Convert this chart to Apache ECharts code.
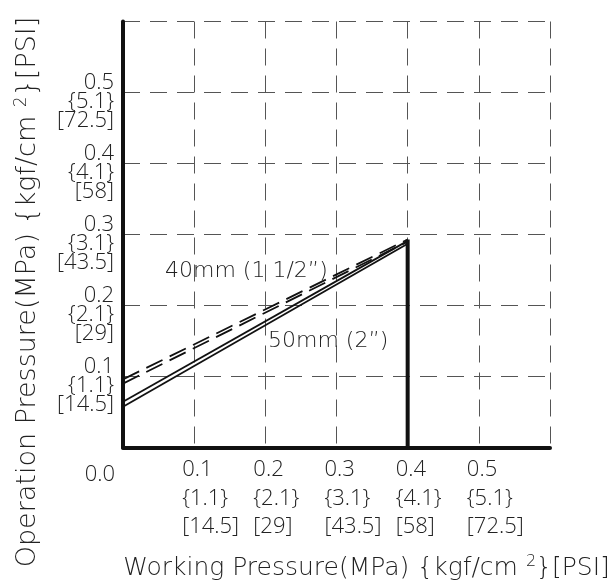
<!DOCTYPE html>
<html>
<head>
<meta charset="utf-8">
<script src="https://cdn.jsdelivr.net/npm/echarts@6/dist/echarts.min.js"></script>
<style>
html,body{margin:0;padding:0;background:#fff;}
#chart{width:616px;height:584px;}
</style>
</head>
<body>
<div id="chart"></div>
<script>
// Tick labels (MPa / kgf/cm2 / PSI)
const tickMPa = ['0.1', '0.2', '0.3', '0.4', '0.5'];
const tickKgf = ['{1.1}', '{2.1}', '{3.1}', '{4.1}', '{5.1}'];
const tickPsi = ['[14.5]', '[29]', '[43.5]', '[58]', '[72.5]'];
const zeroLabel = '0.0';

// Series values [working pressure, operation pressure] (MPa)
const line40Upper = [[0, 0.096], [0.4, 0.293]];
const line40Lower = [[0, 0.090], [0.4, 0.290]];
const line50Upper = [[0, 0.0645], [0.4, 0.291]];
const line50Lower = [[0, 0.0575], [0.4, 0.287]];
const limitLine = [[0.4, 0.293], [0.4, 0]];

const label40 = '40mm (1 1/2\u201d)';
const label50 = '50mm (2\u201d)';

const FONT = '"Open Sans", Roboto, "DejaVu Sans", sans-serif';
const WIDE = '"DejaVu Sans", "Open Sans", sans-serif';
const TXT = '#222';

function tickText(v) {
  const i = Math.round(v * 10) - 1;
  if (i < 0 || i >= tickMPa.length) return null;
  return [tickMPa[i], tickKgf[i], tickPsi[i]];
}

const chart = echarts.init(document.getElementById('chart'), null, {renderer: 'canvas'});

const lineSeries = (data, dashed, width) => ({
  type: 'line',
  data: data,
  symbol: 'none',
  silent: true,
  animation: false,
  lineStyle: {color: '#111', width: width, type: dashed ? [18, 8] : 'solid'},
  z: 5
});

chart.setOption({
  animation: false,
  backgroundColor: '#fff',
  grid: {left: 123, right: 66, top: 21.5, bottom: 136.5, containLabel: false, outerBoundsMode: 'none'},
  xAxis: {
    type: 'value', min: 0, max: 0.6, interval: 0.1,
    axisLine: {show: true, onZero: false, lineStyle: {color: '#111', width: 4}},
    axisTick: {show: false},
    splitLine: {show: true, lineStyle: {color: '#555', width: 1, type: [17, 10]}},
    axisLabel: {
      show: true, showMinLabel: true, showMaxLabel: true, hideOverlap: false,
      color: TXT, fontFamily: FONT, fontSize: 22, fontWeight: 300,
      align: 'left', lineHeight: 28.5, margin: 8, padding: [0, 0, 0, -12],
      formatter: function (v) { const t = tickText(v); return t ? t.join('\n') : ''; }
    },
    name: 'Working Pressure(MPa) {kgf/cm {sup|2}}[PSI]',
    nameLocation: 'middle', nameGap: 106, nameMoveOverlap: false,
    nameTextStyle: {
      color: TXT, fontFamily: WIDE, fontSize: 25, fontWeight: 200, lineHeight: 30,
      padding: [0, 0, 0, 60],
      rich: {sup: {fontFamily: WIDE, fontSize: 16, fontWeight: 200, color: TXT, verticalAlign: 'top', lineHeight: 30}}
    }
  },
  yAxis: {
    type: 'value', min: 0, max: 0.6, interval: 0.1,
    axisLine: {show: true, onZero: false, lineStyle: {color: '#111', width: 4}},
    axisTick: {show: false},
    splitLine: {show: true, lineStyle: {color: '#555', width: 1, type: [17, 10]}},
    axisLabel: {
      show: true, showMinLabel: true, showMaxLabel: true, hideOverlap: false,
      color: TXT, fontFamily: FONT, fontSize: 22, fontWeight: 300,
      align: 'right', lineHeight: 19, margin: 9,
      formatter: function (v) { const t = tickText(v); return t ? '\n' + t.join('\n') : ''; }
    },
    name: 'Operation Pressure(MPa) {kgf/cm {sup|2}}[PSI]',
    nameLocation: 'middle', nameGap: 80, nameRotate: 90, nameMoveOverlap: false,
    nameTextStyle: {
      color: TXT, fontFamily: WIDE, fontSize: 27, fontWeight: 200, lineHeight: 30,
      padding: [0, 115, 0, 0],
      rich: {sup: {fontFamily: WIDE, fontSize: 17, fontWeight: 200, color: TXT, verticalAlign: 'top', lineHeight: 30}}
    }
  },
  series: [
    lineSeries(line40Upper, true, 1.8),
    lineSeries(line40Lower, true, 1.8),
    lineSeries(line50Upper, false, 1.8),
    lineSeries(line50Lower, false, 1.8),
    lineSeries(limitLine, false, 4)
  ],
  graphic: [
    {type: 'text', x: 115, y: 475, z: 10, style: {text: zeroLabel, fill: TXT, fontFamily: FONT, fontSize: 22, fontWeight: 300, align: 'right', verticalAlign: 'middle'}},
    {type: 'text', x: 165, y: 271, z: 10, style: {text: label40, fill: TXT, fontFamily: WIDE, fontSize: 22, fontWeight: 200, verticalAlign: 'middle'}},
    {type: 'text', x: 268, y: 341, z: 10, style: {text: label50, fill: TXT, fontFamily: WIDE, fontSize: 22, fontWeight: 200, verticalAlign: 'middle'}}
  ]
});
</script>
</body>
</html>
